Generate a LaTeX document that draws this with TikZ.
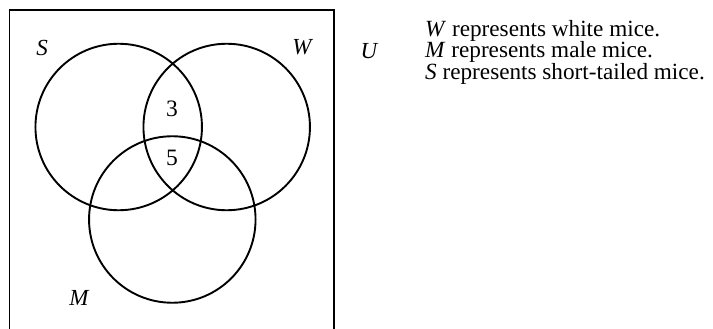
\documentclass[tikz,border=0pt]{standalone}
\usepackage{fontspec}
\setmainfont{Liberation Serif}
\begin{document}
\begin{tikzpicture}[x=1pt,y=-1pt,
  setc/.style={circle,draw,line width=1.9pt,inner sep=0pt,minimum size=166.5pt},
  lab/.style={font=\fontsize{23}{24}\selectfont\itshape,inner sep=0pt},
  num/.style={font=\fontsize{23.5}{24}\selectfont,inner sep=0pt},
  txt/.style={font=\fontsize{23.2}{24}\selectfont,inner sep=0pt,anchor=base west}]
\useasboundingbox (0,0) rectangle (713,329);
\draw[line width=1.8pt] (9.5,329) -- (9.5,10) -- (334,10) -- (334,329);
\node[setc] (S) at (118.7,127) {};
\node[setc] (W) at (226.7,127) {};
\node[setc] (M) at (172.3,219.5) {};
\node[lab] (Sl) at (42,47.5) {S};
\node[lab] (Wl) at (302,47.5) {W};
\node[lab] (Ml) at (79,297.5) {M};
\node[lab] (Ul) at (369,51.5) {U};
\node[num] (n3) at (172,108.5) {3};
\node[num] (n5) at (172,158) {5};
\node[txt] (t1) at (425,36.7) {\textit{W} represents white mice.};
\node[txt] (t2) at (425,58) {\textit{M} represents male mice.};
\node[txt] (t3) at (425,79.3) {\textit{S} represents short-tailed mice.};
\end{tikzpicture}
\end{document}
